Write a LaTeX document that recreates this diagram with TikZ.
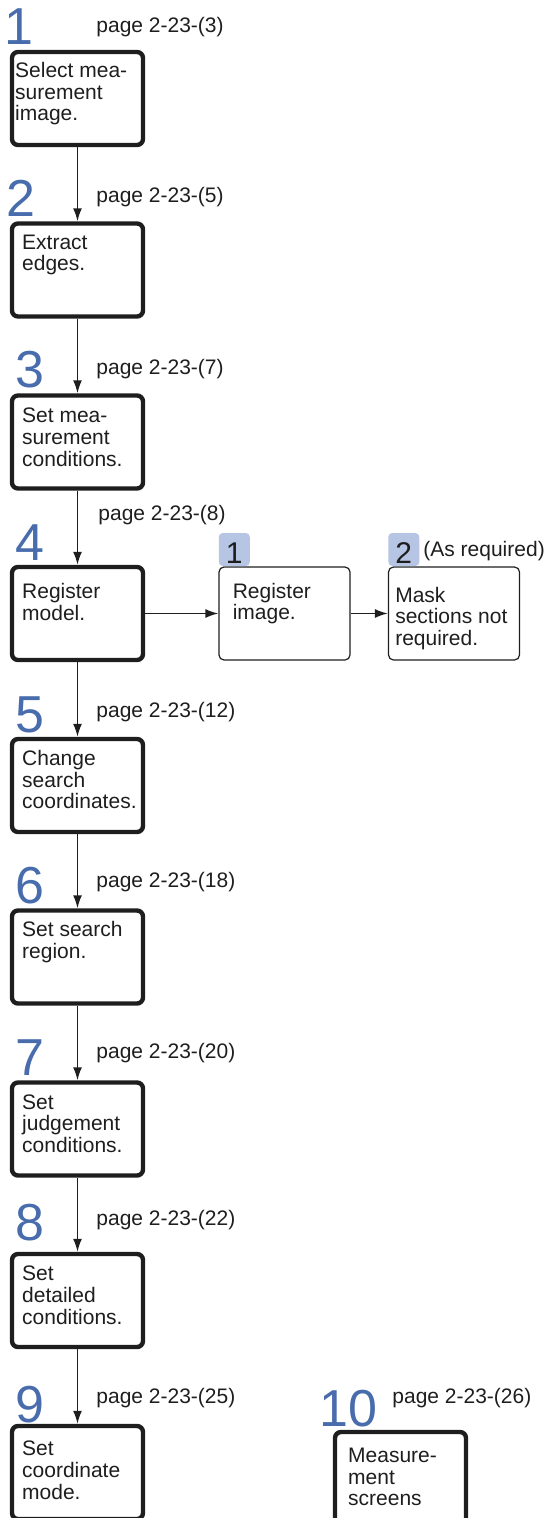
\documentclass[tikz,border=0pt]{standalone}
\usepackage{fontspec}
\setmainfont{Liberation Sans}
\usetikzlibrary{arrows.meta,positioning}
\definecolor{numblue}{RGB}{72,108,172}
\definecolor{badgeblue}{RGB}{182,197,228}
\definecolor{ink}{RGB}{30,30,30}
\begin{document}
\begin{tikzpicture}[
    x=0.5pt,y=-0.5pt,
    >={Latex[length=6.5pt,width=4.5pt]},
    arrow/.style={->, line width=0.8pt, draw=ink},
    stepbox/.style={
        rounded corners=3pt,
        draw=ink,
        line width=2.2pt,
        minimum width=65.5pt,
        minimum height=46.5pt
    },
    subbox/.style={
        rounded corners=2.5pt,
        draw=ink,
        line width=0.6pt,
        minimum width=65.5pt,
        minimum height=46.5pt
    },
    boxtext/.style={
        anchor=north west,
        inner sep=0pt,
        align=left,
        text=ink,
        font=\fontsize{10.5pt}{10.8pt}\selectfont
    },
    num/.style={
        anchor=base west,
        inner sep=0pt,
        text=numblue,
        font=\fontsize{26pt}{26pt}\selectfont
    },
    page/.style={
        anchor=base west,
        inner sep=0pt,
        text=ink,
        font=\fontsize{10.5pt}{12pt}\selectfont
    },
    badge/.style={
        anchor=south west,
        rounded corners=2pt,
        fill=badgeblue,
        inner sep=0pt,
        minimum width=15.5pt,
        minimum height=16.5pt,
        text height=13.5pt,
        text depth=0pt,
        text=ink,
        font=\fontsize{15pt}{15pt}\selectfont
    }
]
    \useasboundingbox (0,0) rectangle (546,1518);

    % main steps
    \node[stepbox] (s1) at (77.5,98.5) {};
    \node[stepbox] (s2) at (77.5,270) {};
    \node[stepbox] (s3) at (77.5,442) {};
    \node[stepbox] (s4) at (77.5,613.5) {};
    \node[stepbox] (s5) at (77.5,785.5) {};
    \node[stepbox] (s6) at (77.5,957) {};
    \node[stepbox] (s7) at (77.5,1129) {};
    \node[stepbox] (s8) at (77.5,1300.5) {};
    \node[stepbox] (s9) at (77.5,1472.5) {};
    \node[stepbox] (s10) at (400.5,1478.5) {};

    \node[boxtext] (t1) at ([shift={(5,12)}]s1.north west) {Select mea-\\surement\\image.};
    \node[boxtext] (t2) at ([shift={(12,13)}]s2.north west) {Extract\\edges.};
    \node[boxtext] (t3) at ([shift={(12,14.5)}]s3.north west) {Set mea-\\surement\\conditions.};
    \node[boxtext] (t4) at ([shift={(12,18)}]s4.north west) {Register\\model.};
    \node[boxtext] (t5) at ([shift={(12,13)}]s5.north west) {Change\\search\\coordinates.};
    \node[boxtext] (t6) at ([shift={(12,13)}]s6.north west) {Set search\\region.};
    \node[boxtext] (t7) at ([shift={(12,14)}]s7.north west) {Set\\judgement\\conditions.};
    \node[boxtext] (t8) at ([shift={(12,14)}]s8.north west) {Set\\detailed\\conditions.};
    \node[boxtext] (t9) at ([shift={(12,17)}]s9.north west) {Set\\coordinate\\mode.};
    \node[boxtext] (t10) at ([shift={(15,18)}]s10.north west) {Measure-\\ment\\screens};

    \node[num] (n1) at (4,45) {1};
    \node[num] (n2) at (6.5,217) {2};
    \node[num] (n3) at (15,388) {3};
    \node[num] (n4) at (15,560) {4};
    \node[num] (n5) at (15,732) {5};
    \node[num] (n6) at (15,903) {6};
    \node[num] (n7) at (15,1075) {7};
    \node[num] (n8) at (15,1240) {8};
    \node[num] (n9) at (15,1422) {9};
    \node[num] (n10) at (319,1426) {10};

    \node[page] (p1) at (96,33) {page 2-23-(3)};
    \node[page] (p2) at (96,203) {page 2-23-(5)};
    \node[page] (p3) at (96,375) {page 2-23-(7)};
    \node[page] (p4) at (98,520) {page 2-23-(8)};
    \node[page] (p5) at (96,717) {page 2-23-(12)};
    \node[page] (p6) at (96,887) {page 2-23-(18)};
    \node[page] (p7) at (96,1058) {page 2-23-(20)};
    \node[page] (p8) at (96,1225) {page 2-23-(22)};
    \node[page] (p9) at (96,1403) {page 2-23-(25)};
    \node[page] (p10) at (392,1403) {page 2-23-(26)};

    % model registration
    \node[subbox] (reg) at (284.5,613.5) {};
    \node[subbox] (mask) at (454,613.5) {};
    \node[boxtext] (treg) at ([shift={(14,16)}]reg.north west) {Register\\image.};
    \node[boxtext] (tmask) at ([shift={(7,20)}]mask.north west) {Mask\\sections not\\required.};
    \node[badge] (b1) at (reg.north west) {1};
    \node[badge] (b2) at (mask.north west) {2};
    \node[page] (req) at (423,556) {(As required)};

    \draw[arrow] (s1) -- (s2);
    \draw[arrow] (s2) -- (s3);
    \draw[arrow] (s3) -- (s4);
    \draw[arrow] (s4) -- (s5);
    \draw[arrow] (s5) -- (s6);
    \draw[arrow] (s6) -- (s7);
    \draw[arrow] (s7) -- (s8);
    \draw[arrow] (s8) -- (s9);
    \draw[arrow] (s4) -- (reg);
    \draw[arrow] (reg) -- (mask);

\end{tikzpicture}
\end{document}
